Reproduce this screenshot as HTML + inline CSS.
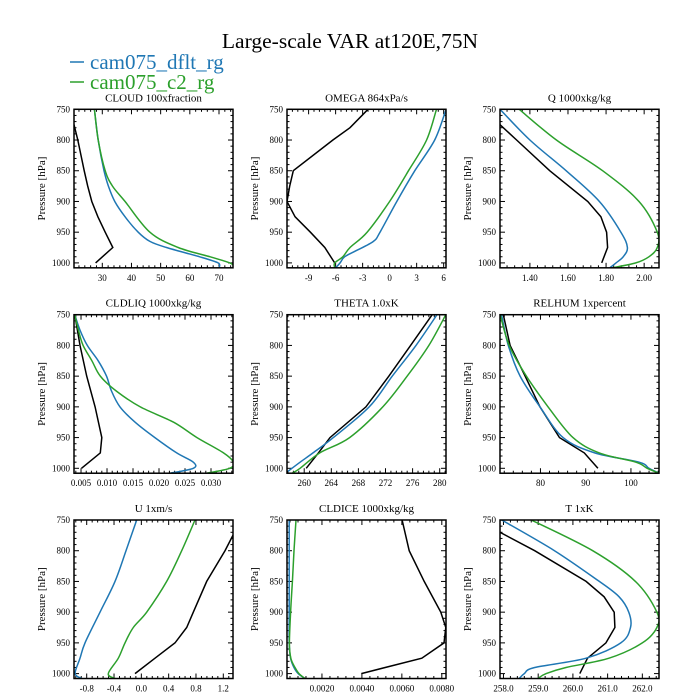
<!DOCTYPE html>
<html><head><meta charset="utf-8"><style>
html,body{margin:0;padding:0;background:#fff;}
svg{display:block;font-family:"Liberation Serif",serif;}
</style></head><body>
<svg id="chart" width="700" height="700" viewBox="0 0 700 700">
<text x="350" y="48" text-anchor="middle" font-size="21.5" fill="#000">Large-scale VAR at120E,75N</text>
<g>
<g><line x1="70" y1="62" x2="84" y2="62" stroke="#1f77b4" stroke-width="1.5"/><text x="90" y="69" font-size="21" fill="#1f77b4">cam075_dflt_rg</text></g>
<g><line x1="70" y1="82" x2="84" y2="82" stroke="#2ca02c" stroke-width="1.5"/><text x="90" y="89" font-size="21" fill="#2ca02c">cam075_c2_rg</text></g>
</g>
</svg>
<script>
// ---- data (pressure levels & values) ----
const panelTitles = ["CLOUD  100xfraction","OMEGA  864xPa/s","Q  1000xkg/kg","CLDLIQ  1000xkg/kg","THETA  1.0xK","RELHUM  1xpercent","U  1xm/s","CLDICE  1000xkg/kg","T  1xK"];
const xDomains = [[20.3,74.8],[-11.4,6.26],[1.243,2.078],[0.00365,0.03423],[257.46,280.93],[71.06,106.2],[-0.986,1.342],[0.00025,0.00821],[257.9,262.48]];
const xTicks = [[30,40,50,60,70],[-9,-6,-3,0,3,6],[1.4,1.6,1.8,2.0],[0.005,0.010,0.015,0.020,0.025,0.030],[260,264,268,272,276,280],[80,90,100],[-0.8,-0.4,0.0,0.4,0.8,1.2],[0.002,0.004,0.006,0.008],[258,259,260,261,262]];
const xTickLabels = [["30","40","50","60","70"],["-9","-6","-3","0","3","6"],["1.40","1.60","1.80","2.00"],["0.005","0.010","0.015","0.020","0.025","0.030"],["260","264","268","272","276","280"],["80","90","100"],["-0.8","-0.4","0.0","0.4","0.8","1.2"],["0.0020","0.0040","0.0060","0.0080"],["258.0","259.0","260.0","261.0","262.0"]];
const yTicks = [750,800,850,900,950,1000];

const obsP = [
 [775,800,825,850,875,900,925,950,975,1000],
 [750,780,800,850,875,900,925,950,975,1000],
 [775,800,850,900,925,950,975,1000],
 [750,800,850,900,950,975,1000],
 [750,800,850,900,950,975,1000],
 [750,800,850,900,950,975,1000],
 [775,800,850,900,925,950,975,1000],
 [750,800,850,900,925,950,975,1000],
 [770,800,850,875,900,925,950,975,1000]];
const obsV = [
 [20.3,21.6,22.7,23.8,25.0,26.4,28.5,31.0,33.6,27.7],
 [-2.4,-4.4,-6.3,-10.7,-11.1,-11.4,-10.5,-8.8,-7.2,-6.1],
 [1.243,1.33,1.504,1.704,1.773,1.803,1.808,1.777],
 [0.0038,0.0048,0.0061,0.0077,0.0090,0.0087,0.0051],
 [278.9,275.7,272.5,269.1,263.8,262.1,260.3],
 [71.8,73.3,76.6,79.9,84.2,89.7,92.7],
 [1.34,1.225,0.957,0.76,0.664,0.493,0.2,-0.093],
 [0.00601,0.00637,0.00712,0.00795,0.0082,0.00811,0.0070,0.00397],
 [257.9,258.9,260.38,260.9,261.19,261.21,260.95,260.42,260.2]];

const dfltP = [
 [750,800,850,875,900,925,950,965,975,990,1000,1008],
 [750,800,850,900,950,965,980,990,1000,1008],
 [750,800,850,900,950,975,990,1000,1008],
 [750,775,800,825,850,875,900,925,950,975,990,1000,1008],
 [750,800,850,900,950,975,990,1005],
 [750,800,850,900,950,975,990,1000,1008],
 [750,800,850,900,950,975,1000,1008],
 [750,800,850,900,950,975,990,1000,1008],
 [750,800,850,875,900,925,950,975,990,1000,1008]];
const dfltV = [
 [27.3,28.6,30.6,32.1,34.3,37.8,42.3,46.3,52.0,63.4,69.7,70.0],
 [6.27,5.0,2.8,0.8,-1.07,-1.8,-3.7,-5.0,-5.5,-6.0],
 [1.243,1.40,1.59,1.765,1.878,1.912,1.89,1.852,1.82],
 [0.0038,0.0048,0.0062,0.0083,0.0099,0.0109,0.0125,0.0154,0.0192,0.0234,0.0266,0.0266,0.0221],
 [279.6,276.5,273.0,269.6,264.3,261.3,259.4,257.6],
 [71.4,72.9,75.5,79.9,85.0,92.0,101.8,104.0,106.2],
 [-0.068,-0.225,-0.386,-0.605,-0.825,-0.898,-0.97,-0.873],
 [0.00036,0.00036,0.00036,0.00036,0.00036,0.00043,0.0006,0.00081,0.00115],
 [257.95,259.47,260.76,261.33,261.61,261.66,261.38,260.38,258.9,258.6,258.45]];

const c2P = [
 [750,800,850,875,900,950,975,990,1000,1005],
 [750,800,850,900,950,975,990,1000,1008],
 [750,800,850,900,950,975,990,1000,1008],
 [750,775,800,825,850,875,900,925,950,975,990,1000,1008],
 [750,800,850,900,950,975,1000,1008],
 [750,800,850,900,950,975,990,1000,1008],
 [750,800,850,900,925,950,975,1000,1008],
 [750,800,850,900,950,975,990,1000,1008],
 [750,800,850,900,925,950,975,990,1000,1008]];
const c2V = [
 [27.3,28.6,31.0,33.5,37.8,46.3,56.0,67.0,73.7,75.0],
 [5.2,4.1,2.1,0.0,-2.5,-4.4,-5.2,-6.1,-6.1],
 [1.344,1.539,1.782,1.973,2.069,2.069,2.025,1.956,1.834],
 [0.0038,0.0045,0.0054,0.0071,0.0087,0.0119,0.0164,0.0228,0.0273,0.0324,0.0343,0.0336,0.0292],
 [280.9,278.4,275.2,271.6,266.7,262.3,259.4,258.2],
 [71.1,73.1,76.9,81.7,87.2,93.0,101.1,103.6,106.2],
 [0.786,0.591,0.371,0.078,-0.118,-0.24,-0.337,-0.484,-0.386],
 [0.0007,0.0006,0.00052,0.00043,0.00037,0.00044,0.00065,0.00085,0.00115],
 [258.8,260.57,261.8,262.42,262.42,262.0,261.04,259.8,259.23,258.99]];

// ---- layout ----
const NS="http://www.w3.org/2000/svg";
const svg=document.getElementById('chart');
const colX=[74,287,500], rowY=[109.3,314.7,520], W=159, P0=750, P1=1008, PX=0.6144;
function mk(tag,attrs,parent){const e=document.createElementNS(NS,tag);for(const k in attrs)e.setAttribute(k,attrs[k]);(parent||svg).appendChild(e);return e;}
function smoothPath(pts){
  let d='M'+pts[0][0].toFixed(1)+','+pts[0][1].toFixed(1);
  for(let j=0;j<pts.length-1;j++){
    const p0=pts[j-1]||pts[j], p1=pts[j], p2=pts[j+1], p3=pts[j+2]||p2;
    const c1=[p1[0]+(p2[0]-p0[0])/6, p1[1]+(p2[1]-p0[1])/6];
    const c2=[p2[0]-(p3[0]-p1[0])/6, p2[1]-(p3[1]-p1[1])/6];
    d+='C'+c1[0].toFixed(1)+','+c1[1].toFixed(1)+' '+c2[0].toFixed(1)+','+c2[1].toFixed(1)+' '+p2[0].toFixed(1)+','+p2[1].toFixed(1);
  }
  return d;
}

for(let i=0;i<9;i++){
  const x0=colX[i%3], y0=rowY[Math.floor(i/3)];
  const h=(P1-P0)*PX;
  const dom=xDomains[i];
  const sx=v=>x0+(v-dom[0])/(dom[1]-dom[0])*W;
  const sy=p=>y0+(p-P0)*PX;
  const g=mk('g',{});
  
  
  const cp=mk('clipPath',{id:'cp'+i},g);
  mk('rect',{x:x0,y:y0,width:W,height:h},cp);
  const t=mk('text',{x:x0+W/2,y:y0-8,'text-anchor':'middle','font-size':'11','xml:space':'preserve'},g);
  t.textContent=panelTitles[i];
  
  
  const yl=mk('text',{x:0,y:0,'text-anchor':'middle','font-size':'11',transform:`translate(${x0-29},${y0+h/2}) rotate(-90)`},g);
  yl.textContent='Pressure [hPa]';
  
  
  for(let p=750;p<=1000;p+=10){
    const major=(p%50===0), L=major?5:2.5;
    mk('line',{x1:x0,x2:x0+L,y1:sy(p),y2:sy(p),stroke:'#000','stroke-width':1},g);
    mk('line',{x1:x0+W,x2:x0+W-L,y1:sy(p),y2:sy(p),stroke:'#000','stroke-width':1},g);
  }
  yTicks.forEach(p=>{
    const tl=mk('text',{x:x0-4,y:sy(p)+3,'text-anchor':'end','font-size':'9'},g);
    tl.textContent=p;
    
    
  });
  const tk=xTicks[i], step=tk[1]-tk[0], ms=step/5;
  for(let v=tk[0]-step;v<=dom[1]+1e-12;v+=ms){
    if(v<dom[0]-1e-12)continue;
    const k=Math.round((v-tk[0])/ms), major=(((k%5)+5)%5===0), L=major?5:2.5;
    mk('line',{x1:sx(v),x2:sx(v),y1:y0+h,y2:y0+h-L,stroke:'#000','stroke-width':1},g);
    mk('line',{x1:sx(v),x2:sx(v),y1:y0,y2:y0+L,stroke:'#000','stroke-width':1},g);
  }
  tk.forEach((v,j)=>{
    const tl=mk('text',{x:sx(v),y:y0+h+13,'text-anchor':'middle','font-size':'9'},g);
    tl.textContent=xTickLabels[i][j];
    
    
  });
  const series=[[obsP[i],obsV[i],'#000','obs-line',false],[dfltP[i],dfltV[i],'#1f77b4','dflt-line',true],[c2P[i],c2V[i],'#2ca02c','c2-line',true]];
  series.forEach(s=>{
    const pts=s[0].map((p,j)=>[sx(s[1][j]),sy(p)]);
    const d=s[4]?smoothPath(pts):pts.map((q,j)=>(j?'L':'M')+q[0].toFixed(1)+','+q[1].toFixed(1)).join('');
    const pl=mk('path',{d:d,fill:'none',stroke:s[2],'stroke-width':1.5,'clip-path':`url(#cp${i})`},g);
    
    
  });
  const fr=mk('rect',{x:x0,y:y0,width:W,height:h,fill:'none',stroke:'#000','stroke-width':1.5},g);
  
  
}
</script>
</body></html>
